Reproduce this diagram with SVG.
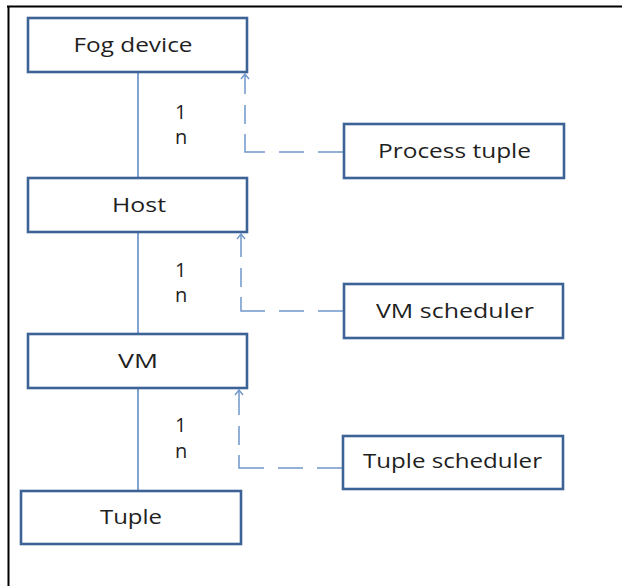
<svg xmlns="http://www.w3.org/2000/svg" width="622" height="586" viewBox="0 0 622 586">
  <defs>
    <style>
      .box { fill: #ffffff; stroke: #3d6396; stroke-width: 2.6; }
      .label { font-family: "Open Sans", "Liberation Sans", sans-serif; font-size: 20px; fill: #1f1f1f; text-anchor: middle; }
      .mult { font-family: "Open Sans", "Liberation Sans", sans-serif; font-size: 20px; fill: #1f1f1f; }
      .link { stroke: #5a86c0; stroke-width: 1.5; fill: none; }
      .dash { stroke: #6f97cb; stroke-width: 1.5; fill: none; stroke-dasharray: 26 14 25 14 38 10 19 11 40; marker-end: url(#open); }
    </style>
    <!-- open chevron arrowhead, pointing along the path direction -->
    <marker id="open" viewBox="0 0 10 10" refX="9" refY="5" markerWidth="10" markerHeight="10" markerUnits="userSpaceOnUse" orient="auto">
      <path d="M4,1 L9,5 L4,9" fill="none" stroke="#6f97cb" stroke-width="1.4"/>
    </marker>
  </defs>

  <rect width="622" height="586" fill="#ffffff"/>
  <!-- page frame: top and left rules only -->
  <line x1="7" y1="6.5" x2="622" y2="6.5" stroke="#000" stroke-width="2"/>
  <line x1="8.5" y1="6" x2="8.5" y2="586" stroke="#000" stroke-width="2"/>

  <g id="connectors">
    <line class="link" x1="138" y1="72" x2="138" y2="178"/>
    <line class="link" x1="138" y1="232" x2="138" y2="333"/>
    <line class="link" x1="138" y1="388" x2="138" y2="491"/>
    <path class="dash" d="M344,152 H245 V74"/>
    <path class="dash" d="M344,311 H241 V234"/>
    <path class="dash" d="M343,468 H239 V390"/>
    <text class="mult" x="175" y="119">1</text>
    <text class="mult" x="175" y="144">n</text>
    <text class="mult" x="175" y="277">1</text>
    <text class="mult" x="175" y="302">n</text>
    <text class="mult" x="175" y="432">1</text>
    <text class="mult" x="175" y="458">n</text>
  </g>

  <g id="fog-device">
    <rect class="box" x="28" y="18" width="219" height="54"/>
    <text class="label" x="133" y="52" textLength="119" lengthAdjust="spacingAndGlyphs">Fog device</text>
  </g>
  <g id="host">
    <rect class="box" x="28" y="178" width="219" height="54"/>
    <text class="label" x="139" y="212" textLength="54" lengthAdjust="spacingAndGlyphs">Host</text>
  </g>
  <g id="vm">
    <rect class="box" x="28" y="334" width="219" height="54"/>
    <text class="label" x="138" y="368" textLength="40" lengthAdjust="spacingAndGlyphs">VM</text>
  </g>
  <g id="tuple">
    <rect class="box" x="21" y="491" width="220" height="53"/>
    <text class="label" x="131" y="524" textLength="62" lengthAdjust="spacingAndGlyphs">Tuple</text>
  </g>
  <g id="process-tuple">
    <rect class="box" x="344" y="124" width="220" height="54"/>
    <text class="label" x="454.5" y="158" textLength="153" lengthAdjust="spacingAndGlyphs">Process tuple</text>
  </g>
  <g id="vm-scheduler">
    <rect class="box" x="344" y="284" width="219" height="54"/>
    <text class="label" x="455" y="318" textLength="158" lengthAdjust="spacingAndGlyphs">VM scheduler</text>
  </g>
  <g id="tuple-scheduler">
    <rect class="box" x="343" y="436" width="220" height="53"/>
    <text class="label" x="452.5" y="468" textLength="179" lengthAdjust="spacingAndGlyphs">Tuple scheduler</text>
  </g>
</svg>
